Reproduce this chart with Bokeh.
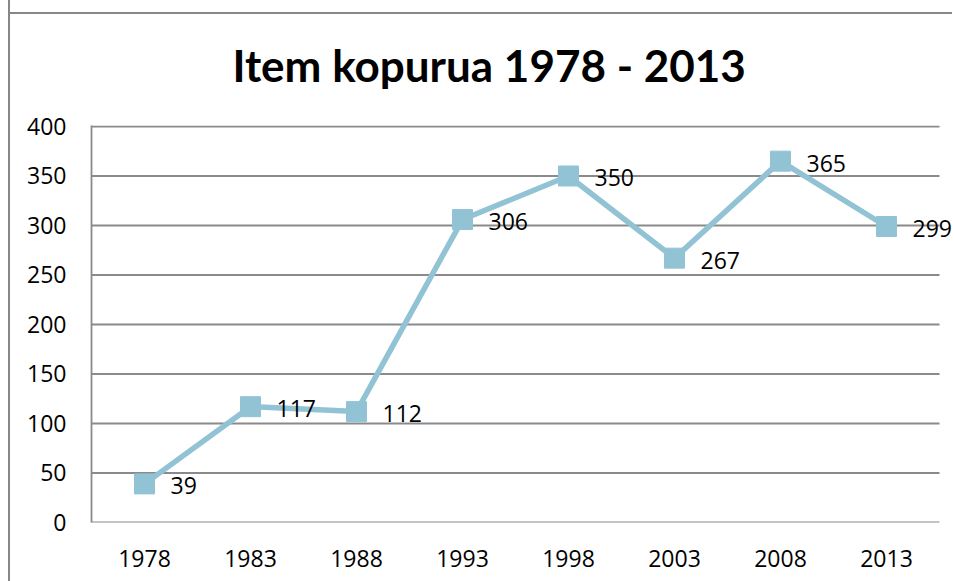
from bokeh.plotting import figure
from bokeh.models import Range1d, ColumnDataSource, LabelSet, FixedTicker
from bokeh.core.properties import value
from bokeh.embed import file_html
from bokeh.resources import INLINE

years = ["1978", "1983", "1988", "1993", "1998", "2003", "2008", "2013"]
counts = [39, 117, 112, 306, 350, 267, 365, 299]
y_ticks = [0, 50, 100, 150, 200, 250, 300, 350, 400]
title_text = "Item kopurua 1978 - 2013"

FONT = "Open Sans"
LINE = "#92C3D5"
GRID = "#8A8A8A"
EDGE = "#878787"
FS = "23px"

n = len(years)
xs = [i + 0.5 for i in range(n)]
src = ColumnDataSource(data=dict(x=xs, y=counts, t=[str(c) for c in counts]))

# frame: 848px for the categories plus 13px extra on the right for the last label
x_end = n * 861 / 848
y_end = 400 * 398 / 397

p = figure(x_range=Range1d(0, x_end), y_range=Range1d(0, y_end), width=944, height=581,
           output_backend="svg", toolbar_location=None,
           min_border_left=81, min_border_right=2, min_border_top=125,
           min_border_bottom=59)
p.styles = {"border-left": f"2px solid {EDGE}", "margin-left": "8px",
            "background": f"linear-gradient({EDGE}, {EDGE}) 0 12px / 100% 2px no-repeat white"}
p.outline_line_color = None
p.background_fill_color = "white"
p.border_fill_color = None

# horizontal gridlines over the category area only
p.segment(x0=[0] * len(y_ticks), x1=[n] * len(y_ticks), y0=y_ticks, y1=y_ticks,
          line_color=GRID, line_width=1.8)

p.line("x", "y", source=src, line_color=LINE, line_width=5.5)
p.scatter("x", "y", source=src, marker="square", size=20, fill_color=LINE,
          line_color=LINE)

labels = LabelSet(x="x", y="y", text="t", source=src, x_offset=26, y_offset=-2,
                  text_baseline="middle", text_align="left", text_font=value(FONT),
                  text_font_size=FS, text_color="black")
p.add_layout(labels)

p.title.text = title_text
p.title.align = "left"
p.title.offset = 141
p.title.standoff = 70
p.title.text_font = "Lato"
p.title.text_font_style = "bold"
p.title.text_font_size = "44px"
p.title.text_color = "black"

p.yaxis.ticker = FixedTicker(ticks=y_ticks)
p.xaxis.ticker = FixedTicker(ticks=xs)
p.xaxis.major_label_overrides = {x: y for x, y in zip(xs, years)}
p.xgrid.grid_line_color = None
p.ygrid.grid_line_color = None

for ax in (p.xaxis, p.yaxis):
    ax.axis_line_color = GRID
    ax.axis_line_width = 1.8
    ax.major_tick_line_color = None
    ax.minor_tick_line_color = None
    ax.major_tick_out = 0
    ax.major_tick_in = 0
    ax.major_label_text_font = FONT
    ax.major_label_text_font_size = FS
    ax.major_label_text_color = "black"
p.xaxis.axis_line_color = None
p.yaxis.major_label_standoff = 25
p.xaxis.major_label_standoff = 27

open("out.html", "w").write(file_html(p, INLINE))
